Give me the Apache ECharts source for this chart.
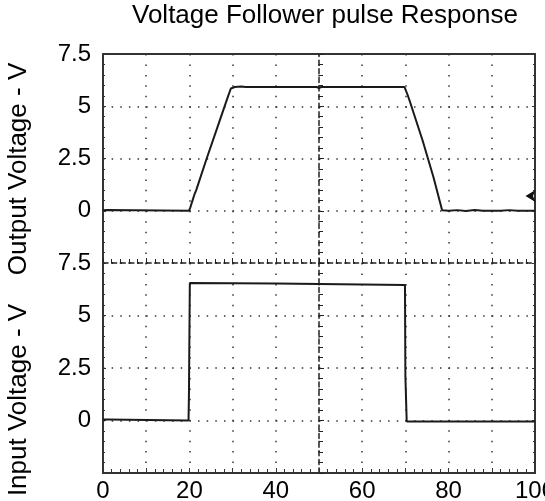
<!DOCTYPE html>
<html>
<head>
<meta charset="utf-8">
<script src="https://cdn.jsdelivr.net/npm/echarts@6/dist/echarts.min.js"></script>
<style>
  html, body { margin: 0; padding: 0; background: #fff; }
  #main { width: 545px; height: 501px; }
</style>
</head>
<body>
<div id="main"></div>
<script>
    // time axis (both panels), 0..100
    var xTicks = [0, 20, 40, 60, 80, 100];
    var yTicks = [7.5, 5, 2.5, 0];

    // output voltage trace (top panel)
    var outT = [0, 1, 19.9, 20.2, 21.2, 21.6, 24, 26.5, 28.9, 29.6, 30.5, 32, 33, 49.5, 50, 50.5, 69.8, 70.5, 71, 74, 76.5, 78.5, 80, 82, 84, 86, 88, 92, 94, 96, 100];
    var outV = [0.02, 0.04, 0.0, 0.15, 0.8, 1.0, 2.5, 4.0, 5.45, 5.85, 5.92, 5.95, 5.92, 5.92, 5.87, 5.92, 5.92, 5.55, 5.25, 3.35, 1.6, 0.02, 0.0, 0.03, -0.01, 0.04, 0.0, 0.0, 0.03, 0.0, 0.0];

    // input voltage trace (bottom panel)
    var inT = [0, 1, 1.2, 19.8, 19.9, 20.0, 20.1, 40, 50, 60, 69.9, 70.0, 70.2, 70.3, 100];
    var inV = [0.05, 0.05, 0.0, 0.0, 1.3, 1.3, 6.55, 6.52, 6.5, 6.48, 6.45, 2.1, 2.1, -0.05, -0.05];

    // ground marker on the output trace
    var marker = [97.8, 0.7];

    function pairs(xs, ys) {
        var r = [];
        for (var i = 0; i < xs.length; i++) r.push([xs[i], ys[i]]);
        return r;
    }

    var ink = '#1a1a1a';
    var font = 'Liberation Sans, Arial, sans-serif';
    var dotsH = { color: '#333', width: 1.5, type: [1.5, 7.14] };
    var dotsV = { color: '#333', width: 1.5, type: [1.5, 8.95] };

    function xAx(grid, pos, opt) {
        var a = {
            type: 'value', gridIndex: grid, position: pos, min: 0, max: 100, interval: 10,
            axisLine: { show: true, onZero: false, lineStyle: { color: '#333', width: 2 } },
            axisTick: { show: false },
            axisLabel: { show: false },
            splitLine: { show: false }
        };
        return Object.assign(a, opt || {});
    }

    function yAx(grid, pos, opt) {
        var a = {
            type: 'value', gridIndex: grid, position: pos, min: -2.5, max: 7.5, interval: 2.5,
            axisLine: { show: true, onZero: false, lineStyle: { color: '#333', width: 2 } },
            axisTick: { show: false },
            axisLabel: { show: false },
            splitLine: { show: false }
        };
        return Object.assign(a, opt || {});
    }

    var yLabel = {
        show: true, fontSize: 24, color: '#000', fontFamily: font, margin: 12,
        formatter: function (v) { return yTicks.indexOf(v) >= 0 ? String(v) : ''; }
    };
    var centerLine = {
        axisLine: { show: true, onZero: false, lineStyle: { color: '#222', width: 1.5, type: [5, 3.6] } },
        axisTick: { show: true, inside: true, length: 5, lineStyle: { color: '#222' } },
        minorTick: { show: true, splitNumber: 5, length: 4, lineStyle: { color: '#222' } }
    };
    var edgeTicks = {
        minorTick: { show: true, splitNumber: 5, length: 2, lineStyle: { color: '#333' } },
        axisTick: { show: true, inside: true, length: 3, lineStyle: { color: '#333' } }
    };

    var chart = echarts.init(document.getElementById('main'));
    chart.setOption({
        animation: false,
        backgroundColor: '#fff',
        title: {
            text: 'Voltage Follower pulse Response', left: 132, top: 3, padding: 0,
            textStyle: { fontSize: 26, fontWeight: 'normal', color: '#000', fontFamily: font }
        },
        grid: [
            { left: 103, right: 10, top: 54, height: 209, outerBoundsMode: 'none' },
            { left: 103, right: 10, top: 263, height: 210, outerBoundsMode: 'none' }
        ],
        xAxis: [
            xAx(0, 'top', { splitLine: { show: true, lineStyle: dotsV } }),
            xAx(0, 'bottom', {
                axisLine: { show: true, onZero: false, lineStyle: { color: '#222', width: 1.5, type: [5, 3.64] } },
                axisTick: { show: true, inside: true, length: 5, lineStyle: { color: '#222' } },
                minorTick: { show: true, splitNumber: 5, length: 4, lineStyle: { color: '#222' } }
            }),
            xAx(1, 'bottom', {
                axisLabel: {
                    show: true, fontSize: 24, color: '#000', fontFamily: font, margin: 6,
                    formatter: function (v) { return xTicks.indexOf(v) >= 0 ? String(v) : ''; }
                },
                axisTick: { show: true, inside: true, length: 5, lineStyle: { color: '#333' } },
                minorTick: { show: true, splitNumber: 5, length: 4, lineStyle: { color: '#333' } },
                splitLine: { show: true, lineStyle: dotsV }
            })
        ],
        yAxis: [
            yAx(0, 'left', Object.assign({ axisLabel: yLabel, splitLine: { show: true, lineStyle: dotsH } }, edgeTicks)),
            yAx(0, 'right', edgeTicks),
            yAx(0, 'left', Object.assign({ offset: -216 }, centerLine)),
            yAx(1, 'left', Object.assign({ axisLabel: yLabel, splitLine: { show: true, lineStyle: dotsH } }, edgeTicks)),
            yAx(1, 'right', edgeTicks),
            yAx(1, 'left', Object.assign({ offset: -216 }, centerLine))
        ],
        graphic: [
            {
                type: 'text', x: 19, y: 169, rotation: Math.PI / 2,
                style: { text: 'Output Voltage - V', fontSize: 26, fontFamily: font, fill: '#000', align: 'center', verticalAlign: 'middle' }
            },
            {
                type: 'text', x: 19, y: 400, rotation: Math.PI / 2,
                style: { text: 'Input Voltage - V', fontSize: 26, fontFamily: font, fill: '#000', align: 'center', verticalAlign: 'middle' }
            }
        ],
        series: [
            {
                name: 'Output', type: 'line', xAxisIndex: 0, yAxisIndex: 0,
                data: pairs(outT, outV), showSymbol: false, symbol: 'none',
                lineStyle: { color: ink, width: 2 },
                markPoint: {
                    symbol: 'arrow', symbolRotate: 90, symbolSize: [9, 10],
                    itemStyle: { color: '#111' }, label: { show: false },
                    data: [{ coord: marker }]
                }
            },
            {
                name: 'Input', type: 'line', xAxisIndex: 2, yAxisIndex: 3,
                data: pairs(inT, inV), showSymbol: false, symbol: 'none',
                lineStyle: { color: ink, width: 2 }
            }
        ]
    });
</script>
</body>
</html>
